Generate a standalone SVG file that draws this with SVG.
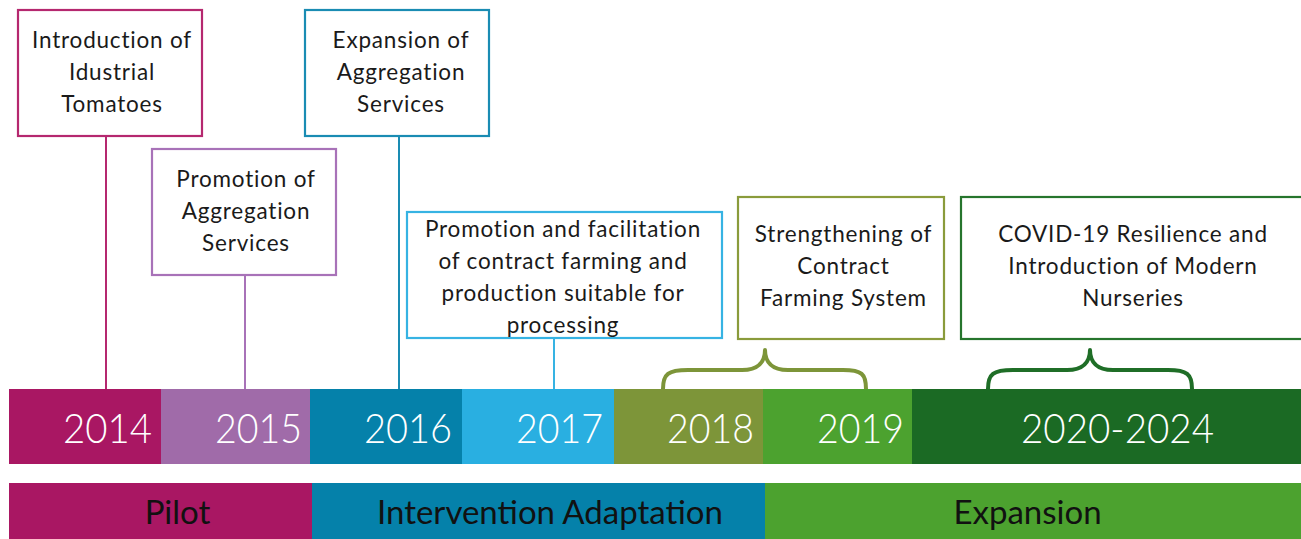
<svg xmlns="http://www.w3.org/2000/svg" width="1301" height="539" viewBox="0 0 1301 539">
<style>
.box{fill:#fff;stroke-width:2.2}
.bt{font-family:Lato,"Noto Sans",sans-serif;font-size:22.5px;letter-spacing:0.8px;font-variant-ligatures:none;fill:#1a1a1a;text-anchor:middle}
.yr{font-family:Lato,"Liberation Sans",sans-serif;font-weight:300;font-size:42px;fill:#fff}
.ph{font-family:Lato,"Liberation Sans",sans-serif;font-size:33px;fill:#111;text-anchor:middle}
.con{fill:none;stroke-width:2}
.brace{fill:none;stroke-width:4;stroke-linecap:round;stroke-linejoin:round}
</style>
<rect width="1301" height="539" fill="#fff"/>
<g id="connectors">
<line class="con" x1="106" y1="136" x2="106" y2="389" stroke="#B5286F"/>
<line class="con" x1="245" y1="275" x2="245" y2="389" stroke="#A872B8"/>
<line class="con" x1="399" y1="136" x2="399" y2="389" stroke="#1A8CB3"/>
<line class="con" x1="554" y1="338" x2="554" y2="389" stroke="#36B3E3"/>
<path class="brace" stroke="#7D9539" d="M663,389 C663,374 668,370 688,370 L742,370 C758,370 765,362 765,350 C765,362 772,370 788,370 L843,370 C862,370 866,374 866,389"/>
<path class="brace" stroke="#1F6E27" d="M988,389 C988,374 993,370 1013,370 L1067,370 C1083,370 1090,362 1090,350 C1090,362 1097,370 1113,370 L1168,370 C1187,370 1192,374 1192,389"/>
</g>
<g id="node-2014-intro">
<rect class="box" x="18" y="10" width="184" height="126" stroke="#B5286F"/>
<text class="bt" x="112" y="48">Introduction of</text>
<text class="bt" x="112" y="80">Idustrial</text>
<text class="bt" x="112" y="112">Tomatoes</text>
</g>
<g id="node-2015-promo">
<rect class="box" x="152" y="149" width="184" height="126" stroke="#A872B8"/>
<text class="bt" x="246" y="187">Promotion of</text>
<text class="bt" x="246" y="219">Aggregation</text>
<text class="bt" x="246" y="251">Services</text>
</g>
<g id="node-2016-expansion">
<rect class="box" x="305" y="10" width="184" height="126" stroke="#1A8CB3"/>
<text class="bt" x="401" y="48">Expansion of</text>
<text class="bt" x="401" y="80">Aggregation</text>
<text class="bt" x="401" y="112">Services</text>
</g>
<g id="node-2017-contract">
<rect class="box" x="407" y="212" width="315" height="126" stroke="#36B3E3"/>
<text class="bt" x="563" y="237">Promotion and facilitation</text>
<text class="bt" x="563" y="269">of contract farming and</text>
<text class="bt" x="563" y="301">production suitable for</text>
<text class="bt" x="563" y="333">processing</text>
</g>
<g id="node-2018-strengthening">
<rect class="box" x="738" y="197" width="206" height="142" stroke="#8A9B3B"/>
<text class="bt" x="843.5" y="242">Strengthening of</text>
<text class="bt" x="843.5" y="274">Contract</text>
<text class="bt" x="843.5" y="306">Farming System</text>
</g>
<g id="node-2020-covid">
<rect class="box" x="961" y="197" width="345" height="142" stroke="#26752D"/>
<text class="bt" x="1133" y="242">COVID-19 Resilience and</text>
<text class="bt" x="1133" y="274">Introduction of Modern</text>
<text class="bt" x="1133" y="306">Nurseries</text>
</g>
<g id="years">
<rect x="9" y="389" width="152" height="75" fill="#A91763"/>
<rect x="161" y="389" width="149" height="75" fill="#A06BA9"/>
<rect x="310" y="389" width="152" height="75" fill="#0581AA"/>
<rect x="462" y="389" width="152" height="75" fill="#29AFE1"/>
<rect x="614" y="389" width="149" height="75" fill="#7D9539"/>
<rect x="763" y="389" width="149" height="75" fill="#4CA22F"/>
<rect x="912" y="389" width="389" height="75" fill="#1B6A24"/>
<text class="yr" x="63" y="443" textLength="89" lengthAdjust="spacingAndGlyphs">2014</text>
<text class="yr" x="215" y="443" textLength="87" lengthAdjust="spacingAndGlyphs">2015</text>
<text class="yr" x="364" y="443" textLength="88" lengthAdjust="spacingAndGlyphs">2016</text>
<text class="yr" x="516" y="443" textLength="87" lengthAdjust="spacingAndGlyphs">2017</text>
<text class="yr" x="667" y="443" textLength="87" lengthAdjust="spacingAndGlyphs">2018</text>
<text class="yr" x="817" y="443" textLength="87" lengthAdjust="spacingAndGlyphs">2019</text>
<text class="yr" x="1021" y="443" textLength="193" lengthAdjust="spacingAndGlyphs">2020-2024</text>
</g>
<g id="phases">
<rect x="9" y="483" width="303" height="56" fill="#A91763"/>
<rect x="312" y="483" width="453" height="56" fill="#0581AA"/>
<rect x="765" y="483" width="536" height="56" fill="#4CA22F"/>
<text class="ph" x="177.5" y="524">Pilot</text>
<text class="ph" x="550" y="524">Intervention Adaptation</text>
<text class="ph" x="1027.5" y="524">Expansion</text>
</g>
</svg>
